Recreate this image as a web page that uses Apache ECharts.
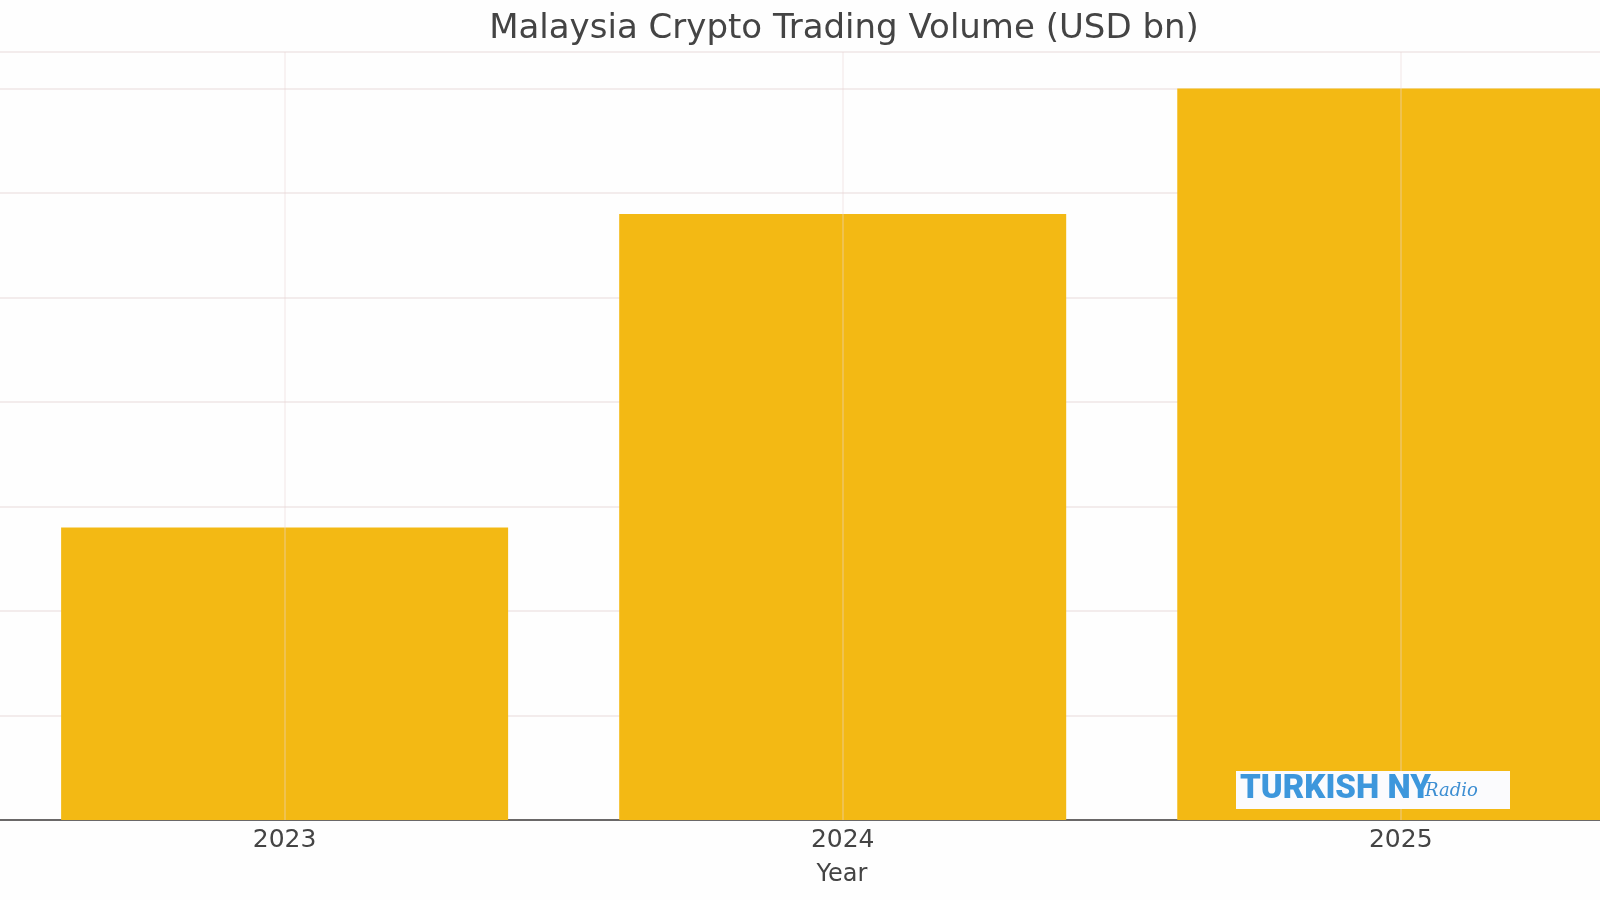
<!DOCTYPE html>
<html>
<head>
<meta charset="utf-8">
<title>Malaysia Crypto Trading Volume</title>
<script src="https://cdn.jsdelivr.net/npm/echarts@6/dist/echarts.min.js"></script>
<style>
  html, body { margin: 0; padding: 0; background: #fff; }
  #chart { width: 1600px; height: 900px; }
</style>
</head>
<body>
<div id="chart"></div>
<script>
// data (y tick labels are cropped out, so units are a guess)
const years = ['2023', '2024', '2025']
const volume = [2.8, 5.8, 7.0]

// bars sit on a value x-axis (index 0..2) so the plot can run past the right edge
const yearIdx = years.map((y, i) => i)
const barData = volume.map((v, i) => [i, v])

const chart = echarts.init(document.getElementById('chart'))

const option = {
  backgroundColor: '#fefefe',
  animation: false,
  title: {
    text: 'Malaysia Crypto Trading Volume (USD bn)',
    left: 839,
    textAlign: 'center',
    top: 7,
    textStyle: {
      fontFamily: 'DejaVu Sans',
      fontSize: 34,
      fontWeight: 'normal',
      color: '#444'
    }
  },
  grid: {
    left: 0,
    right: 0,
    top: 52,
    bottom: 80
  },
  xAxis: {
    type: 'value',
    min: -0.51,
    max: 2.357,
    name: 'Year',
    nameLocation: 'middle',
    nameGap: 43,
    nameTextStyle: {
      fontFamily: 'DejaVu Sans',
      fontSize: 24,
      color: '#444',
      // push the name under the middle bar, not the canvas middle
      padding: [0, 0, 0, 84]
    },
    axisLine: {
      lineStyle: { color: 'rgba(60,60,60,0.75)', width: 2 }
    },
    axisTick: {
      customValues: yearIdx,
      inside: true,
      length: 4,
      lineStyle: { color: '#555' }
    },
    axisLabel: {
      customValues: yearIdx,
      formatter: v => years[Math.round(v)] || '',
      fontFamily: 'DejaVu Sans',
      fontSize: 25,
      color: '#444',
      margin: 8
    },
    splitLine: { show: false }
  },
  yAxis: {
    type: 'value',
    min: 0,
    max: 7.35,
    interval: 1,
    axisLine: { show: false },
    axisTick: { show: false },
    axisLabel: { show: false },
    splitLine: {
      lineStyle: { color: '#efe6e6', width: 1.5 }
    }
  },
  series: [
    {
      type: 'bar',
      data: barData,
      barWidth: 447,
      itemStyle: { color: '#F3B914' },
      markLine: {
        silent: true,
        symbol: 'none',
        label: { show: false },
        lineStyle: { color: 'rgba(235,215,215,0.4)', type: 'solid', width: 1.5 },
        data: yearIdx.map(i => ({ xAxis: i }))
      }
    }
  ],
  // watermark logo box
  graphic: [
    {
      type: 'group',
      x: 1236,
      y: 771,
      z: 100,
      children: [
        {
          type: 'rect',
          z: 100,
          shape: { x: 0, y: 0, width: 274, height: 38 },
          style: { fill: '#fbfbfd' }
        },
        {
          type: 'text',
          z: 101,
          x: 4,
          y: 19,
          style: {
            text: 'TURKISH NY',
            font: '900 33px Roboto',
            fill: '#3d97dc',
            verticalAlign: 'middle'
          }
        },
        {
          type: 'text',
          z: 101,
          x: 189,
          y: 20,
          style: {
            text: 'Radio',
            font: 'italic 18px "DejaVu Serif"',
            fill: '#3d8ed2',
            verticalAlign: 'middle'
          }
        }
      ]
    }
  ]
}

chart.setOption(option)
</script>
</body>
</html>
